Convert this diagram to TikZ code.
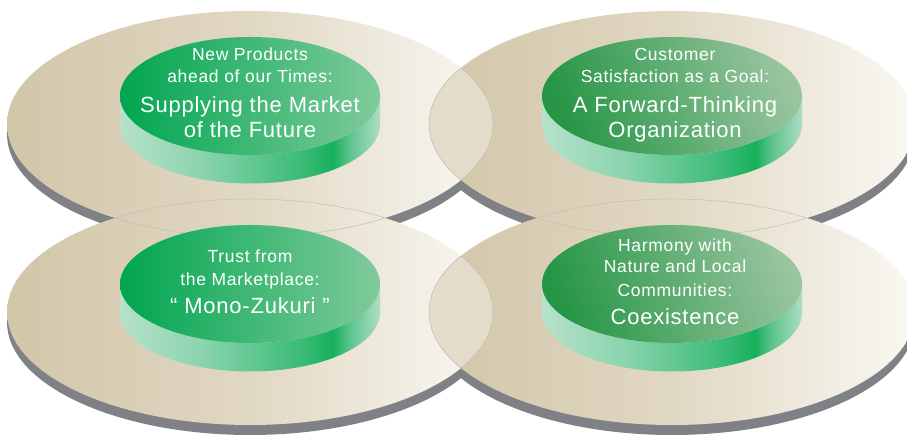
\documentclass[tikz,border=0pt]{standalone}
\usepackage{fontspec}
\setmainfont{Liberation Sans}
\newfontfamily\smallf{Liberation Sans}[LetterSpace=4]
\newfontfamily\bigf{Liberation Sans}[LetterSpace=3.5]
\usetikzlibrary{calc}
\definecolor{shadowgray}{RGB}{128,129,134}
\definecolor{beigeL}{RGB}{210,198,169}
\definecolor{beigeM}{RGB}{225,216,195}
\definecolor{beigeR}{RGB}{249,248,243}
\definecolor{lensfill}{RGB}{228,220,203}
\definecolor{lensline}{RGB}{196,190,176}
\definecolor{gA1}{RGB}{0,166,80}
\definecolor{gA2}{RGB}{128,202,155}
\definecolor{gB1}{RGB}{38,150,70}
\definecolor{gB2}{RGB}{152,196,158}
\definecolor{sA}{RGB}{182,226,202}
\definecolor{sB}{RGB}{140,212,175}
\definecolor{sC}{RGB}{60,188,120}
\definecolor{sD}{RGB}{22,176,92}
\definecolor{sE}{RGB}{90,195,140}
\definecolor{sF}{RGB}{175,220,195}
\pgfdeclarehorizontalshading{cylside}{100bp}{color(0bp)=(sA); color(25bp)=(sA); color(40.5bp)=(sB); color(59.5bp)=(sC); color(66bp)=(sD); color(69bp)=(sE); color(75bp)=(sF); color(100bp)=(sF)}
\begin{document}
\begin{tikzpicture}[x=1pt,y=1pt,
  face/.style={left color=beigeL, right color=beigeR, middle color=beigeM},
  topA/.style={left color=gA1, right color=gA2},
  topB/.style={left color=gB1, right color=gB2, shading angle=110},
  lens/.style={draw=lensline, line width=0.5pt},
  smalltext/.style={text=white, font=\fontsize{17.5}{21}\smallf, anchor=base, inner sep=0pt},
  bigtext/.style={text=white, font=\fontsize{22}{26}\bigf, anchor=base, inner sep=0pt}]
\useasboundingbox (0,0) rectangle (907,435);
% big discs
\coordinate (TL) at (250,311);
\coordinate (TR) at (672,311);
\coordinate (BL) at (250,123);
\coordinate (BR) at (672,123);
\foreach \c in {TL,TR,BL,BR}{
  \fill[shadowgray] ($(\c)+(0,-10)$) ellipse [x radius=243, y radius=113];
  \fill[shadowgray] ($(\c)+(-243,-10)$) rectangle ($(\c)+(243,0)$);
}
\foreach \c in {TL,TR,BL,BR}{
  \shade[face] (\c) ellipse [x radius=243, y radius=113];
}
% side-by-side overlaps: blended colour
\foreach \a/\b in {TL/TR,BL/BR}{
  \begin{scope}
    \clip (\b) ellipse [x radius=243, y radius=113];
    \fill[lensfill] (\a) ellipse [x radius=243, y radius=113];
  \end{scope}
}
% overlap outlines
\foreach \a/\b in {TL/TR,BL/BR,TL/BL,TR/BR}{
  \begin{scope}
    \clip (\b) ellipse [x radius=243, y radius=113];
    \draw[lens] (\a) ellipse [x radius=243, y radius=113];
  \end{scope}
  \begin{scope}
    \clip (\a) ellipse [x radius=243, y radius=113];
    \draw[lens] (\b) ellipse [x radius=243, y radius=113];
  \end{scope}
}
% green cylinders
\coordinate (GTL) at (250,339);
\coordinate (GTR) at (672,339);
\coordinate (GBL) at (250,151);
\coordinate (GBR) at (672,151);
\foreach \c/\st in {GTL/topA,GTR/topB,GBL/topA,GBR/topB}{
  \shade[shading=cylside] ($(\c)+(-130,0)$) arc[start angle=180, end angle=360, x radius=130, y radius=59]
     -- ++(0,-28.5) arc[start angle=0, end angle=-180, x radius=130, y radius=59] -- cycle;
  \shade[\st] (\c) ellipse [x radius=130, y radius=59];
}
% texts
\node[smalltext] (tl1) at (250,374) {New Products};
\node[smalltext] (tl2) at (250,352) {ahead of our Times:};
\node[bigtext]   (tl3) at (250,322) {Supplying the Market};
\node[bigtext]   (tl4) at (250,297) {of the Future};
\node[smalltext] (tr1) at (675,374) {Customer};
\node[smalltext] (tr2) at (675,352) {Satisfaction as a Goal:};
\node[bigtext]   (tr3) at (675,322) {A Forward-Thinking};
\node[bigtext]   (tr4) at (675,297) {Organization};
\node[smalltext] (bl1) at (250,172) {Trust from};
\node[smalltext] (bl2) at (250,149) {the Marketplace:};
\node[bigtext]   (bl3) at (250,121) {“ Mono-Zukuri ”};
\node[smalltext] (br1) at (675,183) {Harmony with};
\node[smalltext] (br2) at (675,162) {Nature and Local};
\node[smalltext] (br3) at (675,138) {Communities:};
\node[bigtext]   (br4) at (675,110) {Coexistence};
\end{tikzpicture}
\end{document}
